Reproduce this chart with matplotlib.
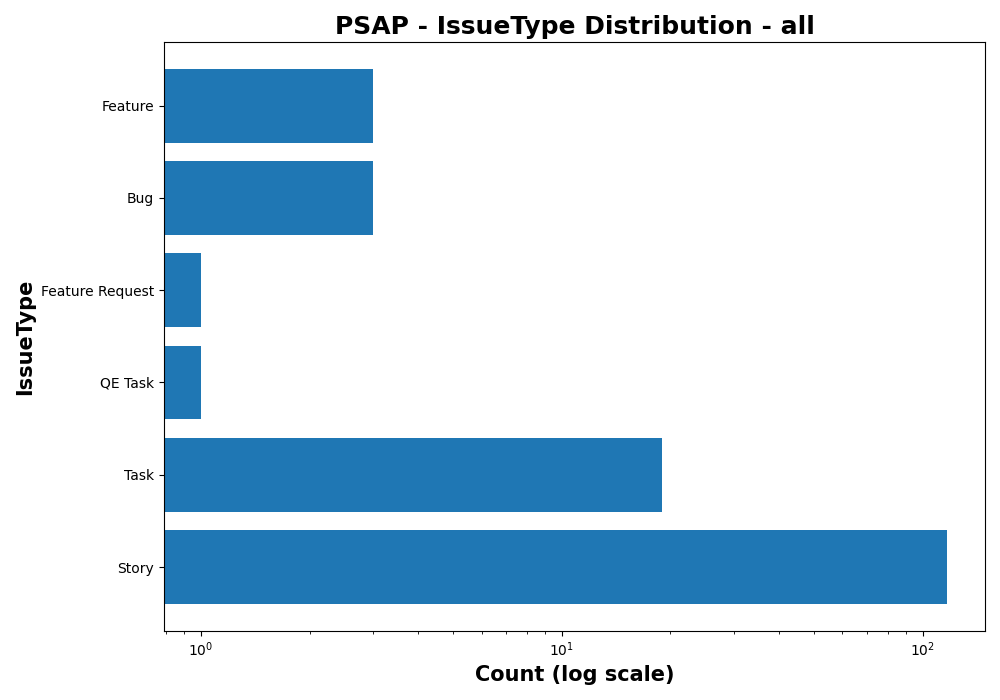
import matplotlib
matplotlib.use("Agg")
import matplotlib.pyplot as plt

issue_types = ["Story", "Task", "QE Task", "Feature Request", "Bug", "Feature"]
counts = [117, 19, 1, 1, 3, 3]

fig, ax = plt.subplots(figsize=(10, 7), dpi=100)
ax.barh(issue_types, counts, color="#1f77b4")
ax.set_xscale("log")
ax.set_xlim(0.79, 149)
ax.set_title("PSAP - IssueType Distribution - all", fontsize=18, fontweight="bold")
ax.set_xlabel("Count (log scale)", fontsize=15, fontweight="bold")
ax.set_ylabel("IssueType", fontsize=15, fontweight="bold")
fig.subplots_adjust(left=0.164, right=0.985, top=0.94, bottom=0.099)
fig.savefig("out.png")
